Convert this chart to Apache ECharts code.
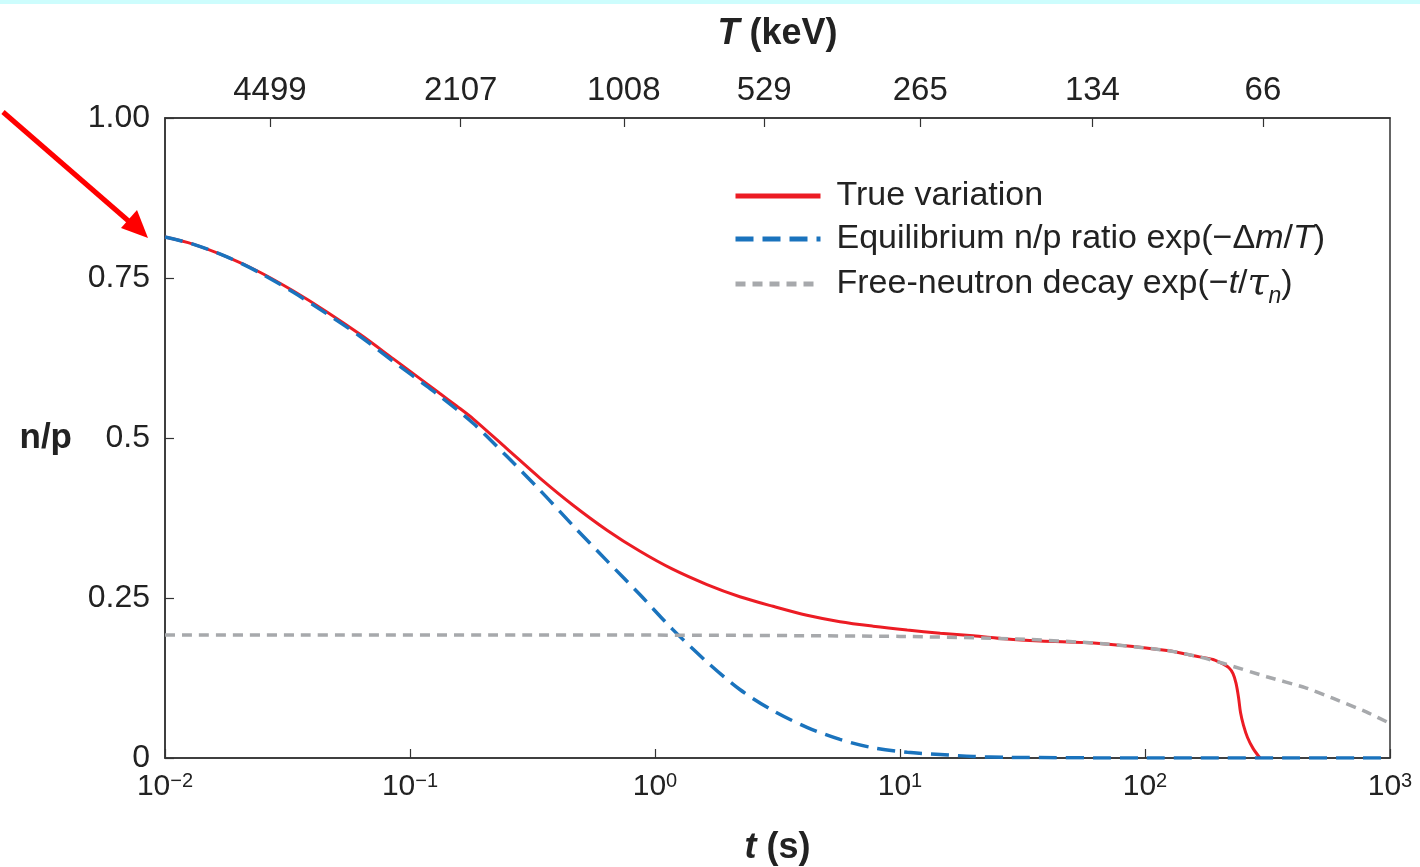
<!DOCTYPE html>
<html><head><meta charset="utf-8">
<script src="https://cdn.jsdelivr.net/npm/echarts@6/dist/echarts.min.js"></script>
<style>html,body{margin:0;padding:0;background:#fff}#c{width:1420px;height:867px}</style>
</head><body><div id="c"></div>
<script>
// ---- data (t in seconds, n/p ratio) ----
const tTrue = [0.01, 0.013, 0.0179, 0.0244, 0.0333, 0.0458, 0.0625, 0.0853, 0.117, 0.132, 0.155, 0.181, 0.249, 0.340, 0.463, 0.637, 0.869, 1.18, 1.63, 2.22, 3.03, 4.17, 5.69, 7.76, 10.7, 14.6, 19.9, 27.3, 37.3, 65.5, 123, 167, 189.5, 208, 220, 228.7, 235.2, 240.8, 245.4, 252.4, 262.1, 276, 294.7];
const nTrue = [0.814, 0.803, 0.783, 0.759, 0.730, 0.697, 0.662, 0.624, 0.585, 0.570, 0.550, 0.530, 0.483, 0.437, 0.395, 0.356, 0.323, 0.295, 0.271, 0.252, 0.237, 0.223, 0.213, 0.206, 0.200, 0.195, 0.191, 0.186, 0.183, 0.179, 0.168, 0.158, 0.154, 0.147, 0.141, 0.132, 0.117, 0.095, 0.071, 0.051, 0.032, 0.015, 0];
const tEq = [0.01, 0.013, 0.0179, 0.0244, 0.0333, 0.0458, 0.0625, 0.0853, 0.117, 0.132, 0.181, 0.249, 0.340, 0.463, 0.637, 0.869, 1.18, 1.63, 2.22, 3.03, 4.17, 5.69, 7.76, 10.7, 14.6, 19.9, 27.3, 100, 1000];
const nEq = [0.814, 0.803, 0.783, 0.758, 0.728, 0.694, 0.659, 0.620, 0.581, 0.566, 0.523, 0.471, 0.418, 0.363, 0.308, 0.255, 0.201, 0.150, 0.107, 0.074, 0.048, 0.029, 0.016, 0.009, 0.0055, 0.0024, 0.001, 0, 0];
const tFree = [0.01, 1, 10, 30, 65.5, 123, 167, 208, 314, 450, 587, 800, 1000];
const nFree = [0.192, 0.192, 0.190, 0.186, 0.179, 0.168, 0.158, 0.148, 0.127, 0.110, 0.093, 0.072, 0.054];

const topTickT = [0.0268, 0.161, 0.746, 2.79, 12.1, 61, 303];
const topTickLabels = ['4499', '2107', '1008', '529', '265', '134', '66'];
const yTickValues = [0, 0.25, 0.5, 0.75, 1];
const yTickLabels = ['0', '0.25', '0.5', '0.75', '1.00'];
const seriesNames = ['True variation', 'Equilibrium n/p ratio exp(−Δm/T)', 'Free-neutron decay exp(−t/τn)'];
const legendRich = [
  'True variation',
  'Equilibrium n/p ratio exp(−Δ{i|m}/{i|T})',
  'Free-neutron decay exp(−{i|t}/{tau|τ}{sub|n})'
];

const zip = (a, b) => a.map((v, i) => [v, b[i]]);
const FONT = 'Liberation Sans';
const AX = '#333';
const TXT = '#222';

const chart = echarts.init(document.getElementById('c'), null, {renderer: 'canvas'});
chart.setOption({
  backgroundColor: '#fff',
  animation: false,
  textStyle: {fontFamily: FONT},
  grid: {left: 165, right: 30, top: 118, bottom: 109, containLabel: false, outerBoundsMode: 'none',
    show: true, borderColor: AX, borderWidth: 1.5, backgroundColor: 'transparent'},
  legend: {
    orient: 'vertical', left: 728, top: 174,
    itemWidth: 85, itemHeight: 20, itemGap: 9,
    data: seriesNames,
    lineStyle: {width: 5},
    itemStyle: {opacity: 0},
    formatter: name => legendRich[seriesNames.indexOf(name)],
    textStyle: {
      fontFamily: FONT, fontSize: 34, color: TXT, lineHeight: 34, padding: [0, 0, 0, 11],
      rich: {
        i: {fontFamily: FONT, fontSize: 34, fontStyle: 'italic', color: TXT, lineHeight: 34},
        tau: {fontFamily: 'DejaVu Serif', fontSize: 38, fontStyle: 'italic', color: TXT, lineHeight: 34},
        sub: {fontFamily: FONT, fontSize: 23, fontStyle: 'italic', color: TXT, lineHeight: 22, verticalAlign: 'top', padding: [18, 0, 0, 0]}
      }
    }
  },
  xAxis: [
    {
      type: 'log', logBase: 10, min: 0.01, max: 1000, position: 'bottom',
      name: '{it|t} (s)', nameLocation: 'middle', nameGap: 72,
      nameTextStyle: {fontFamily: FONT, fontSize: 36, fontWeight: 'bold', color: TXT,
        rich: {it: {fontFamily: FONT, fontSize: 36, fontWeight: 'bold', fontStyle: 'italic', color: TXT}}},
      axisLine: {lineStyle: {color: AX, width: 1.5}},
      axisTick: {inside: true, length: 9, lineStyle: {color: AX, width: 1.2}},
      splitLine: {show: false}, minorTick: {show: false},
      axisLabel: {
        margin: 13, fontFamily: FONT, fontSize: 30, color: TXT, lineHeight: 32,
        formatter: v => {
          const e = Math.round(Math.log10(v));
          return '10{sup|' + (e < 0 ? '−' + (-e) : String(e)) + '}';
        },
        rich: {sup: {fontFamily: FONT, fontSize: 20, color: TXT, lineHeight: 18, verticalAlign: 'top'}}
      }
    },
    {
      type: 'log', logBase: 10, min: 0.01, max: 1000, position: 'top',
      name: '{it|T} (keV)', nameLocation: 'middle', nameGap: 66,
      nameTextStyle: {fontFamily: FONT, fontSize: 36, fontWeight: 'bold', color: TXT,
        rich: {it: {fontFamily: FONT, fontSize: 36, fontWeight: 'bold', fontStyle: 'italic', color: TXT}}},
      axisLine: {lineStyle: {color: AX, width: 1.5}},
      axisTick: {inside: true, length: 9, customValues: topTickT, lineStyle: {color: AX, width: 1.2}},
      splitLine: {show: false}, minorTick: {show: false},
      axisLabel: {
        margin: 11, fontFamily: FONT, fontSize: 33, color: TXT,
        customValues: topTickT,
        formatter: v => {
          let best = 0, bd = Infinity;
          topTickT.forEach((t, i) => { const d = Math.abs(Math.log10(t) - Math.log10(v)); if (d < bd) { bd = d; best = i; } });
          return topTickLabels[best];
        }
      }
    }
  ],
  yAxis: {
    type: 'value', min: 0, max: 1, interval: 0.25,
    name: 'n/p', nameLocation: 'middle', nameRotate: 0, nameGap: 93,
    nameTextStyle: {fontFamily: FONT, fontSize: 35, fontWeight: 'bold', color: TXT},
    axisLine: {show: true, lineStyle: {color: AX, width: 1.5}},
    axisTick: {show: true, inside: true, length: 9, lineStyle: {color: AX, width: 1.2}},
    splitLine: {show: false},
    axisLabel: {
      margin: 15, fontFamily: FONT, fontSize: 32, color: TXT,
      formatter: v => { const i = yTickValues.findIndex(x => Math.abs(x - v) < 1e-9); return i >= 0 ? yTickLabels[i] : ''; }
    }
  },
  series: [
    {name: seriesNames[0], type: 'line', xAxisIndex: 0, data: zip(tTrue, nTrue), symbol: 'none', smooth: 0.3,
      lineStyle: {color: '#ec1c24', width: 3}, itemStyle: {color: '#ec1c24'}, z: 2},
    {name: seriesNames[1], type: 'line', xAxisIndex: 0, data: zip(tEq, nEq), symbol: 'none', smooth: 0.3,
      lineStyle: {color: '#1a73bd', width: 3.5, type: [18, 9]}, itemStyle: {color: '#1a73bd'}, z: 3},
    {name: seriesNames[2], type: 'line', xAxisIndex: 0, data: zip(tFree, nFree), symbol: 'none', smooth: 0.2,
      lineStyle: {color: '#a7a9ac', width: 3.5, type: [10, 7]}, itemStyle: {color: '#a7a9ac'}, z: 4}
  ],
  graphic: [
    {type: 'rect', shape: {x: 0, y: 0, width: 1420, height: 4}, style: {fill: '#cdfdfd'}, silent: true},
    {type: 'line', shape: {x1: 3, y1: 112, x2: 132, y2: 224}, style: {stroke: '#ff0000', lineWidth: 5}, silent: true},
    {type: 'polygon', shape: {points: [[148, 238], [121, 228], [137, 210]]}, style: {fill: '#ff0000'}, silent: true}
  ]
});
</script>
</body></html>
